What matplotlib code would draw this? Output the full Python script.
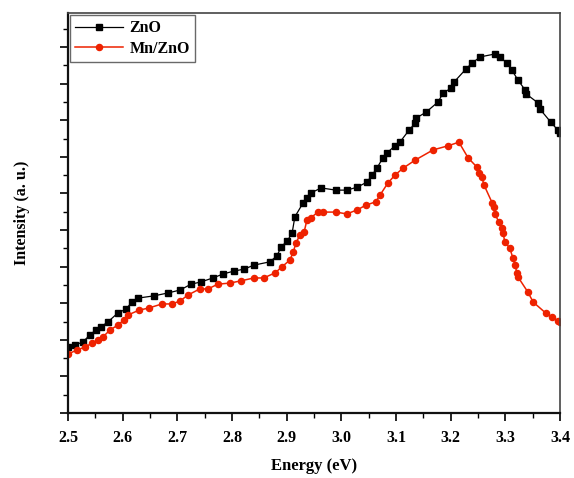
import matplotlib
matplotlib.use("Agg")
import matplotlib.pyplot as plt
from matplotlib.ticker import MultipleLocator

energy_zno = [2.500, 2.513, 2.527, 2.540, 2.551, 2.560, 2.573, 2.591, 2.606, 2.617,
              2.628, 2.657, 2.683, 2.705, 2.725, 2.743, 2.765, 2.784, 2.804, 2.822,
              2.840, 2.869, 2.882, 2.890, 2.901, 2.910, 2.915, 2.930, 2.937, 2.944,
              2.963, 2.990, 3.010, 3.029, 3.047, 3.056, 3.065, 3.076, 3.083, 3.098,
              3.107, 3.124, 3.135, 3.137, 3.155, 3.177, 3.186, 3.201, 3.206, 3.228,
              3.239, 3.254, 3.281, 3.290, 3.303, 3.312, 3.323, 3.336, 3.338, 3.360,
              3.363, 3.383, 3.396, 3.400]
intensity_zno = [1.80, 1.86, 1.94, 2.13, 2.27, 2.35, 2.49, 2.73, 2.84, 3.03,
                 3.14, 3.20, 3.28, 3.36, 3.52, 3.58, 3.69, 3.80, 3.88, 3.93,
                 4.04, 4.13, 4.29, 4.54, 4.70, 4.92, 5.36, 5.74, 5.87, 6.01,
                 6.15, 6.09, 6.09, 6.17, 6.31, 6.50, 6.69, 6.97, 7.10, 7.30,
                 7.40, 7.73, 7.92, 8.06, 8.22, 8.50, 8.74, 8.88, 9.04, 9.40,
                 9.56, 9.73, 9.81, 9.73, 9.56, 9.37, 9.10, 8.83, 8.72, 8.47,
                 8.31, 7.95, 7.73, 7.65]

energy_mn = [2.500, 2.516, 2.531, 2.544, 2.555, 2.564, 2.577, 2.591, 2.602, 2.610,
             2.630, 2.648, 2.672, 2.690, 2.705, 2.719, 2.741, 2.756, 2.774, 2.796,
             2.816, 2.840, 2.858, 2.879, 2.891, 2.906, 2.912, 2.917, 2.924, 2.932,
             2.937, 2.944, 2.957, 2.966, 2.990, 3.010, 3.029, 3.045, 3.063, 3.071,
             3.085, 3.098, 3.113, 3.135, 3.168, 3.195, 3.215, 3.232, 3.248, 3.252,
             3.257, 3.261, 3.276, 3.279, 3.281, 3.288, 3.294, 3.296, 3.299, 3.308,
             3.314, 3.318, 3.321, 3.323, 3.341, 3.351, 3.374, 3.385, 3.396, 3.400]
intensity_mn = [1.61, 1.72, 1.80, 1.91, 1.99, 2.08, 2.27, 2.40, 2.54, 2.68,
                2.81, 2.87, 2.98, 2.98, 3.06, 3.22, 3.39, 3.39, 3.52, 3.55,
                3.61, 3.69, 3.69, 3.83, 3.99, 4.18, 4.40, 4.64, 4.86, 4.95,
                5.27, 5.33, 5.49, 5.49, 5.49, 5.44, 5.55, 5.68, 5.77, 5.96,
                6.28, 6.50, 6.69, 6.91, 7.19, 7.30, 7.40, 6.97, 6.72, 6.56,
                6.45, 6.23, 5.74, 5.63, 5.44, 5.22, 5.05, 4.92, 4.67, 4.51,
                4.23, 4.04, 3.83, 3.72, 3.31, 3.03, 2.73, 2.62, 2.51, 2.49]

x_ticks = [2.5, 2.6, 2.7, 2.8, 2.9, 3.0, 3.1, 3.2, 3.3, 3.4]
series_labels = ["ZnO", "Mn/ZnO"]

plt.rcParams['font.family'] = ['Liberation Serif', 'DejaVu Serif']
plt.rcParams['font.weight'] = 'bold'

fig = plt.figure(figsize=(5.74, 4.78), dpi=100)
ax = fig.add_axes([68/574, 1-413/478, (560-68)/574, (413-13)/478])

ax.plot(energy_zno, intensity_zno, color='black', marker='s', markersize=3.9,
        linewidth=0.9, label=series_labels[0])
ax.plot(energy_mn, intensity_mn, color='#ee2200', marker='o', markersize=4.4,
        linewidth=1.1, label=series_labels[1])

ax.set_xlim(2.5, 3.4)
ax.set_ylim(0, 10.93)
ax.set_xticks(x_ticks)
ax.set_xticklabels([f"{v:.1f}" for v in x_ticks], fontsize=11.5, fontweight='bold')
ax.xaxis.set_minor_locator(MultipleLocator(0.05))
ax.yaxis.set_major_locator(MultipleLocator(1))
ax.yaxis.set_minor_locator(MultipleLocator(0.5))
ax.set_yticklabels([])
ax.tick_params(axis='both', which='major', direction='out', length=6, width=1.2,
               top=False, right=False)
ax.tick_params(axis='both', which='minor', direction='out', length=3.5, width=1.0,
               top=False, right=False)
ax.tick_params(axis='x', pad=6)

for side in ['left', 'bottom']:
    ax.spines[side].set_linewidth(1.6)
    ax.spines[side].set_color('#111111')
for side in ['top', 'right']:
    ax.spines[side].set_linewidth(1.2)
    ax.spines[side].set_color('#444444')

ax.set_xlabel("Energy (eV)", fontsize=12, fontweight='bold', labelpad=9)
ax.set_ylabel("Intensity (a. u.)", fontsize=11.5, fontweight='bold', labelpad=18)

leg = ax.legend(loc='upper left', frameon=True, fancybox=False,
                handlelength=3.0, borderpad=0.3, labelspacing=0.3,
                handletextpad=0.4, borderaxespad=0.15, prop={'weight': 'bold', 'size': 11.5})
leg.get_frame().set_edgecolor('#444444')
leg.get_frame().set_linewidth(1.0)

fig.savefig("out.png", dpi=100)
